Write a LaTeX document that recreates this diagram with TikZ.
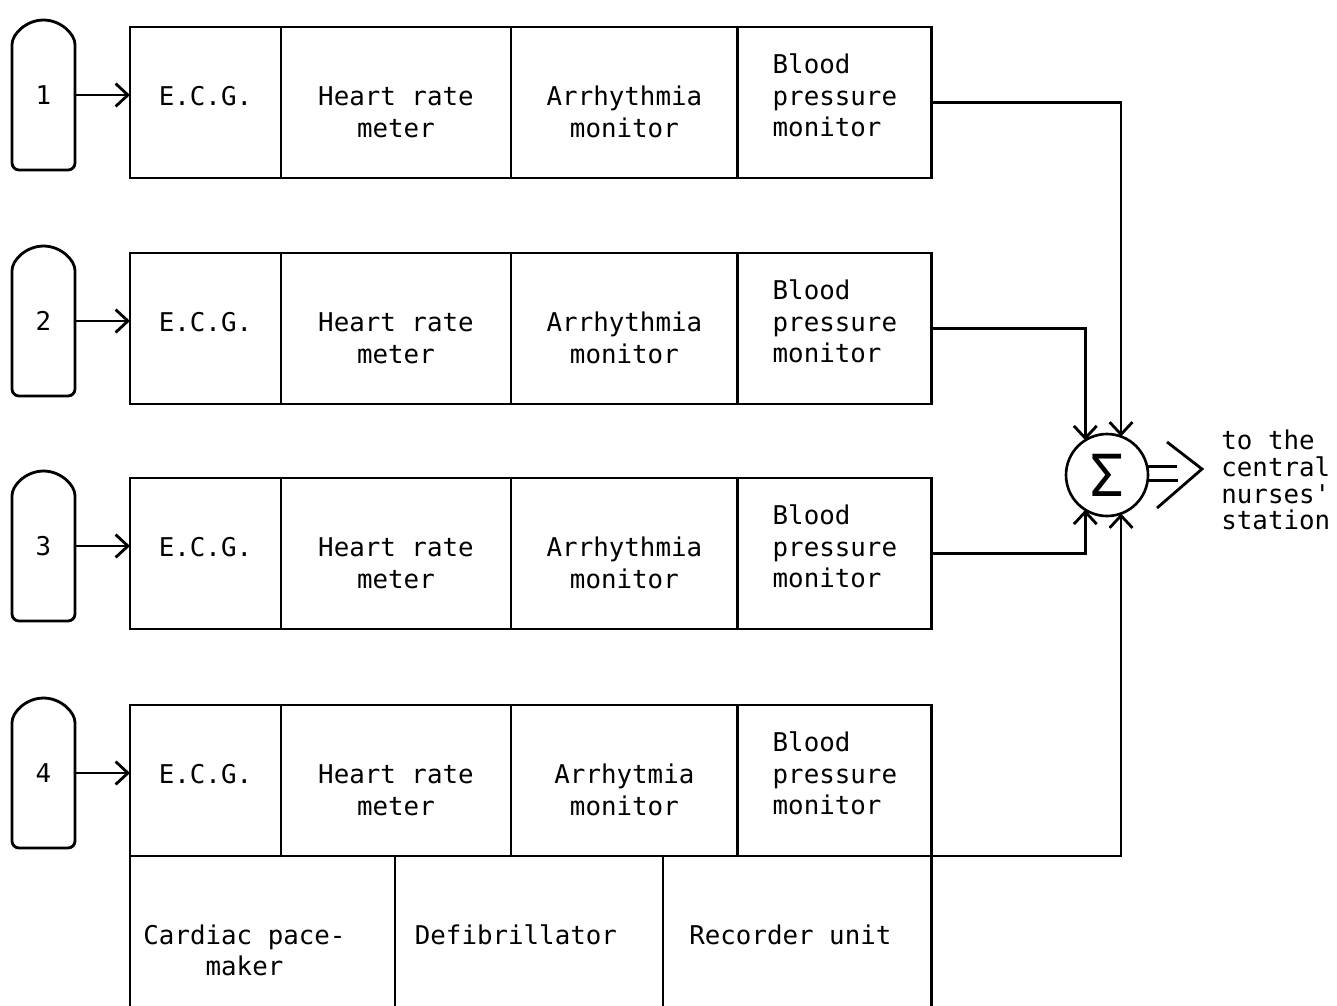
\documentclass[tikz,border=0pt]{standalone}
\usepackage{fontspec}
\newfontfamily\typefont{DejaVu Sans Mono}
\usetikzlibrary{arrows.meta,calc}
\tikzset{
  wire/.style={line width=1.6pt},
  feed/.style={wire, -{Straight Barb[length=7pt,width=13pt]}},
  cellbox/.style={draw, line width=1.6pt, minimum height=3.02cm, inner sep=0pt, outer sep=0pt, anchor=north west},
  celltext/.style={anchor=north, align=center, inner sep=0pt, font=\typefont\fontsize{14.7}{18.1}\selectfont},
  bedbox/.style={minimum width=1.26cm, minimum height=3cm, inner sep=0pt, outer sep=0pt, font=\typefont\fontsize{14.7}{18.1}\selectfont},
}

\begin{document}
\begin{tikzpicture}[x=0.02cm, y=0.02cm]
  \useasboundingbox (0,0) rectangle (1337,-1005);
  \clip (0,0) rectangle (1337,-1005);

  % four bedside units: bed, then the row of monitors
  \foreach \i/\top/\arr in {1/27/Arrhythmia, 2/253/Arrhythmia, 3/478/Arrhythmia, 4/705/Arrhytmia}{
    \node[cellbox, minimum width=3.02cm] (ecg\i) at (130,-\top) {};
    \node[cellbox, minimum width=4.6cm] (hrm\i) at (ecg\i.north east) {};
    \node[cellbox, minimum width=4.54cm] (arr\i) at (hrm\i.north east) {};
    \node[cellbox, minimum width=3.88cm] (bpm\i) at (arr\i.north east) {};
    \node[celltext] (ecgtxt\i) at ([yshift=-1.114cm]ecg\i.north) {\strut E.C.G.};
    \node[celltext] (hrmtxt\i) at ([yshift=-1.114cm]hrm\i.north) {\strut Heart rate\\meter};
    \node[celltext] (arrtxt\i) at ([yshift=-1.114cm]arr\i.north) {\strut\arr\\monitor};
    \node[celltext, align=left] (bpmtxt\i) at ([yshift=-0.474cm]bpm\i.north) {\strut Blood\\pressure\\monitor};
    % bed with rounded head
    \node[bedbox] (bed\i) at (43.5,{-\top-68}) {\i};
    \draw[wire, rounded corners=4pt] (bed\i.south west) -- ([yshift=-0.63cm]bed\i.north west)
      arc[start angle=180, end angle=0, radius=0.63cm] -- (bed\i.south east) -- cycle;
    \draw[feed] (bed\i.east) -- (bed\i.east -| ecg\i.west);
  }

  % extra units under bed 4
  \node[cellbox, minimum width=5.3cm, minimum height=3.3cm] (pace) at (ecg4.south west) {};
  \node[cellbox, minimum width=5.36cm, minimum height=3.3cm] (defib) at (pace.north east) {};
  \node[cellbox, minimum width=5.38cm, minimum height=3.3cm] (rec) at (defib.north east) {};
  \node[celltext] (pacetxt) at ([xshift=-0.36cm, yshift=-1.31cm]pace.north) {\strut Cardiac pace-\\maker};
  \node[celltext] (defibtxt) at ([xshift=-0.26cm, yshift=-1.31cm]defib.north) {\strut Defibrillator};
  \node[celltext] (rectxt) at ([xshift=-0.14cm, yshift=-1.31cm]rec.north) {\strut Recorder unit};

  % summing point
  \node[circle, draw, line width=1.5pt, minimum size=1.64cm, inner sep=0pt, outer sep=0pt,
        font=\typefont\fontsize{33}{33}\selectfont] (sum) at (1107,-475) {Σ};
  \draw[feed] (bpm1.east) -| (sum.70);
  \draw[feed] (bpm2.east) -| (sum.122);
  \draw[feed] (bpm3.east) -| (sum.238);
  \draw[feed] (bpm4.south east) -| (sum.290);

  % output to the nurses' station
  \draw[wire] (sum.12) -- ++(30,0);
  \draw[wire] (sum.-8) -- ++(30,0);
  \draw[wire] ($(sum)+(60,33)$) -- ($(sum)+(95,6)$) -- ($(sum)+(50,-33)$);
  \node[celltext, anchor=west, align=left, font=\typefont\fontsize{14.7}{15.3}\selectfont]
    (dest) at (1221,-480) {to the\\central\\nurses'\\station};
\end{tikzpicture}
\end{document}
